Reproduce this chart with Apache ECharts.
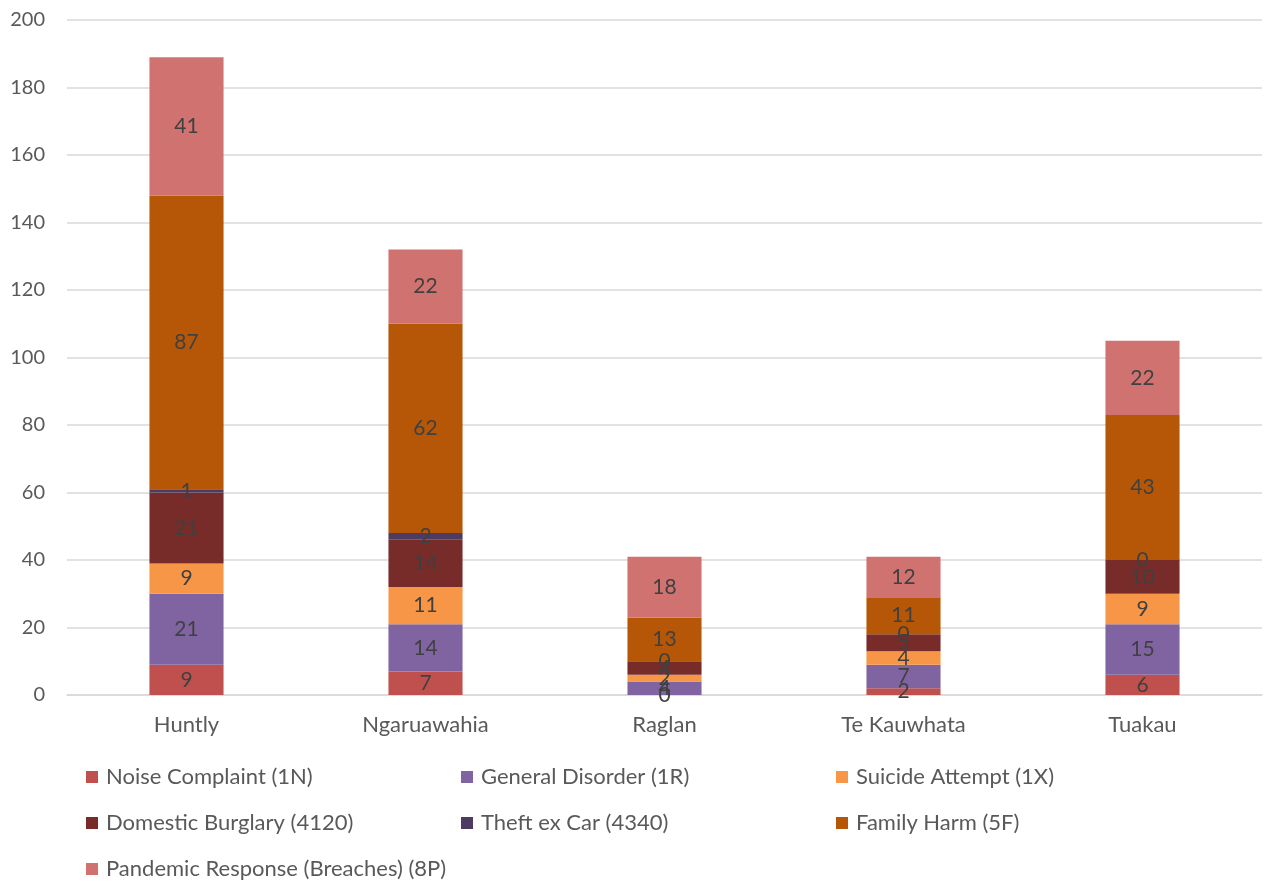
<!DOCTYPE html>
<html><head><meta charset="utf-8">
<script src="https://cdn.jsdelivr.net/npm/echarts@6/dist/echarts.min.js"></script>
<style>html,body{margin:0;padding:0;background:#fff}#c{width:1266px;height:882px}</style>
</head><body><div id="c"></div>
<script>
const categories = ['Huntly', 'Ngaruawahia', 'Raglan', 'Te Kauwhata', 'Tuakau'];
const seriesNames = ['Noise Complaint (1N)', 'General Disorder (1R)', 'Suicide Attempt (1X)', 'Domestic Burglary (4120)', 'Theft ex Car (4340)', 'Family Harm (5F)', 'Pandemic Response (Breaches) (8P)'];
const noiseComplaint = [9, 7, 0, 2, 6];
const generalDisorder = [21, 14, 4, 7, 15];
const suicideAttempt = [9, 11, 2, 4, 9];
const domesticBurglary = [21, 14, 4, 5, 10];
const theftExCar = [1, 2, 0, 0, 0];
const familyHarm = [87, 62, 13, 11, 43];
const pandemicResponse = [41, 22, 18, 12, 22];
const colors = ['#C0504D', '#8064A2', '#F79646', '#772C2A', '#4D3B62', '#B65708', '#D07370'];
const allData = [noiseComplaint, generalDisorder, suicideAttempt, domesticBurglary, theftExCar, familyHarm, pandemicResponse];

const font = 'Lato, "Open Sans", sans-serif';
const chart = echarts.init(document.getElementById('c'));
const series = seriesNames.map((n, i) => ({
  name: n, type: 'bar', stack: 'total', data: allData[i], barWidth: '31%',
  itemStyle: { color: colors[i] },
  label: { show: true, position: 'inside', color: '#404040', fontSize: 21, fontFamily: font },
  emphasis: { disabled: true }
}));
function legendCol(items, left) {
  return {
    orient: 'vertical', left: left, top: 765, height: 130, padding: 0,
    itemGap: 22, itemWidth: 12, itemHeight: 12,
    icon: 'rect', data: items,
    textStyle: { color: '#595959', fontSize: 22, lineHeight: 24, fontFamily: font, padding: [0, 0, 0, 3] }
  };
}
chart.setOption({
  animation: false,
  color: colors,
  grid: { left: 67, right: 4, top: 20, bottom: 187, containLabel: false },
  legend: [
    legendCol([seriesNames[0], seriesNames[3], seriesNames[6]], 86),
    legendCol([seriesNames[1], seriesNames[4]], 461),
    legendCol([seriesNames[2], seriesNames[5]], 836)
  ],
  xAxis: {
    type: 'category', data: categories,
    axisLine: { show: true, lineStyle: { color: '#D9D9D9', width: 1.5 } },
    axisTick: { show: false },
    axisLabel: { color: '#595959', fontSize: 22, fontFamily: font, margin: 19 }
  },
  yAxis: {
    type: 'value', min: 0, max: 200, interval: 20,
    axisLine: { show: false }, axisTick: { show: false },
    splitLine: { lineStyle: { color: '#D9D9D9', width: 1.5 } },
    axisLabel: { color: '#595959', fontSize: 20, fontFamily: font, margin: 22 }
  },
  series: series
});
</script></body></html>
